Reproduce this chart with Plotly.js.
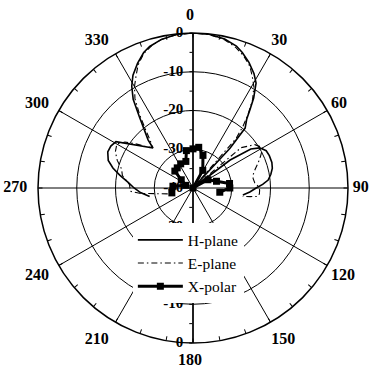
<!DOCTYPE html>
<html>
<head>
<meta charset="utf-8">
<script src="https://cdn.plot.ly/plotly-3.0.1.min.js"></script>
<style>
  html, body { margin: 0; padding: 0; background: #ffffff; }
  #chart { width: 370px; height: 367px; }
</style>
</head>
<body>
<div id="chart"></div>
<script>
// Radiation pattern, normalized gain in dB versus angle (degrees).
const hPlaneTheta = [-101, -95, -90, -85, -80, -76, -72, -67, -63, -59, -45, -43, -40, -37, -34, -31, -28, -24, -20, -17, -12, -6, 0,
  6, 12, 17, 20, 24, 28, 31, 34, 36, 38, 41, 43, 44, 50, 53, 56, 59, 63, 67, 72, 76, 80, 84, 87, 90, 94, 98];
const hPlaneGain = [-28.6, -26.4, -24.8, -23.2, -20.8, -18.7, -17.0, -16.1, -16.2, -16.8, -25.4, -23.0, -20.5, -17.0, -12.4, -9.3, -7.0, -4.8, -2.8, -1.8, -0.8, -0.1, 0,
  -0.1, -0.7, -1.7, -2.8, -4.5, -6.5, -8.4, -12.0, -15.0, -17.5, -19.5, -26.0, -40, -40, -28.0, -22.0, -19.9, -18.8, -18.6, -18.6, -18.9, -19.6, -20.5, -22.0, -23.7, -25.3, -27.0];

const ePlaneTheta = [-103, -96, -93, -87, -80, -75, -70, -65, -60, -56, -52, -48, -45, -42, -39, -36, -33, -30, -27, -24, -20, -16, -12, -6, 0,
  6, 12, 17, 21, 25, 28, 31, 34, 37, 39, 41, 43, 48, 50, 55, 60, 65, 69, 73, 77.5, 81, 85.4, 88, 91.5, 95, 97.4, 98.5, 99.5];
const ePlaneGain = [-33.3, -26.5, -23.8, -23.6, -21.5, -20.9, -19.2, -17.9, -17.3, -18.8, -21.6, -24.2, -25.2, -23.5, -20.5, -16.5, -12.5, -9.8, -7.6, -5.2, -3.0, -1.7, -0.8, -0.2, 0,
  -0.2, -0.9, -2.1, -3.5, -5.3, -7.4, -9.5, -12.5, -16.5, -19.5, -23.0, -40, -40, -23.8, -20.5, -19.2, -20.8, -22.0, -23.2, -24.1, -24.3, -24.0, -23.3, -22.8, -22.8, -23.1, -25.0, -27.0];

const xPolarTheta = [-103, -85, -70, -55, -47, -38, -27, -15, -10, 0, 8, 17, 29, 45, 61, 74, 83, 90, 99];
const xPolarGain = [-34.4, -34.8, -38.0, -36.3, -33.6, -33.4, -33.0, -32.9, -30.2, -29.9, -29.4, -31.2, -34.8, -40, -35.6, -33.7, -30.5, -30.5, -33.0];

const seriesNames = ['H-plane', 'E-plane', 'X-polar'];

// Axis ticks
const angleTicks = [0, 30, 60, 90, 120, 150, 180, 210, 240, 270, 300, 330];
const angleLabels = ['0', '30', '60', '90', '120', '150', '180', '210', '240', '270', '300', '330'];
const angleMinorTicks = Array.from({length: 36}, (_, i) => i * 10);
const radialTicks = [-40, -30, -20, -10, 0];
const radialLabels = ['-40', '-30', '-20', '-10', '0'];
const lowerRadialTicks = [-30, -10, 0];
const lowerRadialLabels = ['-30', '-10', '0'];
const radialMinorTicks = [-40, -35, -30, -25, -20, -15, -10, -5, 0];

const serif = 'Liberation Serif';
const radialRange = [-40, 0];
const labelFont = {family: serif, size: 15, color: '#000000', weight: 700};
// invisible marker only sets the gap between a dB label and the radius line
const labelSpacer = {size: 14, color: 'rgba(0,0,0,0)'};

const traces = [
  {
    type: 'scatterpolar', subplot: 'polar', name: seriesNames[0],
    theta: hPlaneTheta, r: hPlaneGain, mode: 'lines',
    line: {color: '#000000', width: 1.6}
  },
  {
    type: 'scatterpolar', subplot: 'polar2', name: seriesNames[1],
    theta: ePlaneTheta, r: ePlaneGain, mode: 'lines',
    line: {color: '#000000', width: 1.1, dash: '6px,3px,1.5px,3px'}
  },
  {
    type: 'scatterpolar', subplot: 'polar3', name: seriesNames[2],
    theta: xPolarTheta, r: xPolarGain, mode: 'lines+markers',
    line: {color: '#000000', width: 3},
    marker: {symbol: 'square', size: 7, color: '#000000'}
  },
  // dB labels along the 0 degree and 180 degree radii
  {
    type: 'scatterpolar', subplot: 'polar', showlegend: false, hoverinfo: 'skip',
    theta: radialTicks.map(() => 0), r: radialTicks, mode: 'markers+text',
    marker: labelSpacer,
    text: radialLabels, textposition: 'middle left', textfont: labelFont
  },
  {
    type: 'scatterpolar', subplot: 'polar', showlegend: false, hoverinfo: 'skip',
    theta: lowerRadialTicks.map(() => 180), r: lowerRadialTicks, mode: 'markers+text',
    marker: labelSpacer,
    text: lowerRadialLabels, textposition: 'middle left', textfont: labelFont
  }
];

const baseAngular = {
  rotation: 90, direction: 'clockwise',
  tickmode: 'array', tickvals: angleTicks, ticktext: angleLabels
};

const layout = {
  width: 370, height: 367,
  margin: {l: 38, r: 22, t: 33, b: 24, pad: 0},
  paper_bgcolor: '#ffffff',
  font: {family: serif, color: '#000000'},
  showlegend: true,
  legend: {
    x: 0.306, y: 0.386, xanchor: 'left', yanchor: 'top',
    bgcolor: '#ffffff', borderwidth: 0, itemwidth: 45, tracegroupgap: 0,
    font: {family: serif, size: 15.5, color: '#000000'}
  },
  // Main frame: rings, spokes and the upper radius line
  polar: {
    domain: {x: [0, 1], y: [0, 1]},
    bgcolor: '#ffffff',
    angularaxis: Object.assign({}, baseAngular, {
      showline: true, linecolor: '#000000', linewidth: 1.5,
      showgrid: true, gridcolor: '#000000', gridwidth: 1,
      ticks: '', showticklabels: false
    }),
    radialaxis: {
      range: radialRange, angle: 90, side: 'counterclockwise',
      tickmode: 'array', tickvals: radialTicks,
      showline: true, linecolor: '#000000', linewidth: 1.5,
      showgrid: true, gridcolor: '#000000', gridwidth: 1,
      ticks: '', showticklabels: false
    }
  },
  // Lower radius line with 5 dB ticks
  polar2: {
    domain: {x: [0, 1], y: [0, 1]},
    bgcolor: 'rgba(0,0,0,0)',
    angularaxis: Object.assign({}, baseAngular, {
      showline: false, showgrid: false, ticks: '', showticklabels: false
    }),
    radialaxis: {
      range: radialRange, angle: 270, side: 'clockwise',
      tickmode: 'array', tickvals: radialMinorTicks,
      showline: true, linecolor: '#000000', linewidth: 1.5,
      showgrid: false, ticks: 'outside', ticklen: 3, tickcolor: '#000000',
      showticklabels: false
    }
  },
  // 10 degree ticks on the rim and 5 dB ticks on the upper radius
  polar3: {
    domain: {x: [0, 1], y: [0, 1]},
    bgcolor: 'rgba(0,0,0,0)',
    angularaxis: {
      rotation: 90, direction: 'clockwise',
      tickmode: 'array', tickvals: angleMinorTicks,
      showline: false, showgrid: false,
      ticks: 'inside', ticklen: 4, tickcolor: '#000000', tickwidth: 1,
      showticklabels: false
    },
    radialaxis: {
      range: radialRange, angle: 90, side: 'counterclockwise',
      tickmode: 'array', tickvals: radialMinorTicks,
      showline: false, showgrid: false,
      ticks: 'outside', ticklen: 3, tickcolor: '#000000',
      showticklabels: false
    }
  },
  // Angle labels, on a ring centred slightly above and left of the frame centre
  polar4: {
    domain: {x: [0, 0.9806], y: [0.0129, 1]},
    bgcolor: 'rgba(0,0,0,0)',
    angularaxis: Object.assign({}, baseAngular, {
      showline: false, showgrid: false,
      ticks: 'outside', ticklen: 7, tickcolor: 'rgba(0,0,0,0)',
      showticklabels: true,
      tickfont: {family: serif, size: 16, color: '#000000', weight: 700}
    }),
    radialaxis: {range: radialRange, visible: false}
  }
};

// polar4 carries no series of its own; an empty trace keeps the subplot alive
traces.push({type: 'scatterpolar', subplot: 'polar4', r: [], theta: [], mode: 'lines', showlegend: false, hoverinfo: 'skip'});

Plotly.newPlot('chart', traces, layout, {displayModeBar: false, staticPlot: true});
</script>
</body>
</html>
